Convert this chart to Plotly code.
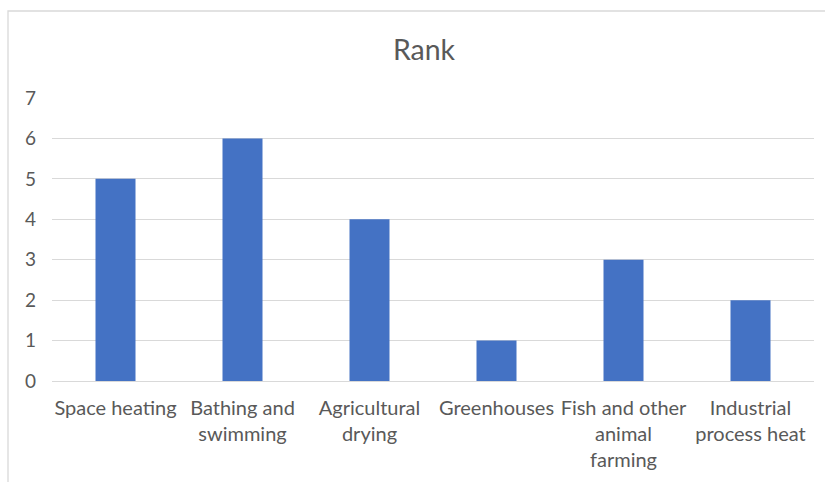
import plotly.graph_objects as go

categories = ["Space heating", "Bathing and<br>swimming", "Agricultural<br>drying",
              "Greenhouses", "Fish and other<br>animal<br>farming", "Industrial<br>process heat"]
rank = [5, 6, 4, 1, 3, 2]
y_ticks = [0, 1, 2, 3, 4, 5, 6, 7]

W, H = 825, 482
ml, mr, mt, mb = 52, 11, 98, 101
pw, ph = W - ml - mr, H - mt - mb

fig = go.Figure(go.Bar(x=categories, y=rank, marker=dict(color="#4472C4", line=dict(width=0)),
                       width=0.315))

font = "Lato, Calibri, Carlito, sans-serif"
fig.update_layout(
    width=W, height=H,
    margin=dict(l=ml, r=mr, t=mt, b=mb),
    paper_bgcolor="white", plot_bgcolor="white",
    showlegend=False,
    title=dict(text="Rank", x=424 / W, xanchor="center", y=1 - 50 / H, yanchor="middle",
               xref="container", yref="container",
               font=dict(family=font, size=28.5, color="#595959")),
    font=dict(family=font, color="#595959"),
    xaxis=dict(showgrid=False, showline=True, linecolor="#d9d9d9", linewidth=1.3,
               tickfont=dict(size=20, color="#595959"), ticks="", ticklabelstandoff=9),
    yaxis=dict(range=[0, 7], tickvals=y_ticks, showgrid=True, gridcolor="#d9d9d9", gridwidth=1.3,
               zeroline=False, tickfont=dict(size=19, color="#595959"), ticks="",
               ticklabelstandoff=15),
    shapes=[dict(type="rect", xref="paper", yref="paper",
                 x0=(8 - ml) / pw, x1=(W + 20 - ml) / pw,
                 y0=-(H + 20 - mt - ph) / ph, y1=1 + (mt - 11) / ph,
                 line=dict(color="#d9d9d9", width=1.3), layer="below")],
)
fig.write_html("out.html")
